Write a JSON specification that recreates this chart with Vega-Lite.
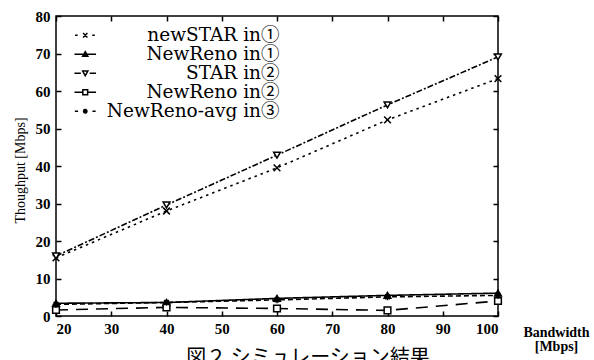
{
  "$schema": "https://vega.github.io/schema/vega-lite/v6.json",
  "width": 442,
  "height": 300,
  "autosize": "none",
  "padding": {"left": 56, "top": 16, "right": 96, "bottom": 44},
  "background": "white",
  "config": {
    "view": {"stroke": "black", "strokeWidth": 1.5},
    "font": "Liberation Serif, Times New Roman, serif",
    "legend": {"symbolStrokeColor": "black", "symbolFillColor": "transparent", "symbolStrokeWidth": 1.5}
  },
  "title": {
    "text": "図２ シミュレーション結果",
    "orient": "bottom",
    "anchor": "middle",
    "font": "Noto Sans CJK JP",
    "fontSize": 20,
    "fontWeight": "normal",
    "color": "black",
    "baseline": "top",
    "offset": -5,
    "dx": 31
  },
  "datasets": {
    "d": [
      {"series": "newSTAR in①", "bw": 20, "tp": 15.5},
      {"series": "newSTAR in①", "bw": 40, "tp": 28.0},
      {"series": "newSTAR in①", "bw": 60, "tp": 39.5},
      {"series": "newSTAR in①", "bw": 80, "tp": 52.3},
      {"series": "newSTAR in①", "bw": 100, "tp": 63.3},
      {"series": "NewReno in①", "bw": 20, "tp": 3.4},
      {"series": "NewReno in①", "bw": 40, "tp": 3.6},
      {"series": "NewReno in①", "bw": 60, "tp": 4.7},
      {"series": "NewReno in①", "bw": 80, "tp": 5.5},
      {"series": "NewReno in①", "bw": 100, "tp": 6.1},
      {"series": "STAR in②", "bw": 20, "tp": 16.0},
      {"series": "STAR in②", "bw": 40, "tp": 29.6},
      {"series": "STAR in②", "bw": 60, "tp": 42.9},
      {"series": "STAR in②", "bw": 80, "tp": 56.3},
      {"series": "STAR in②", "bw": 100, "tp": 69.1},
      {"series": "NewReno in②", "bw": 20, "tp": 1.6},
      {"series": "NewReno in②", "bw": 40, "tp": 2.3},
      {"series": "NewReno in②", "bw": 60, "tp": 2.0},
      {"series": "NewReno in②", "bw": 80, "tp": 1.5},
      {"series": "NewReno in②", "bw": 100, "tp": 4.0},
      {"series": "NewReno-avg in③", "bw": 20, "tp": 3.1},
      {"series": "NewReno-avg in③", "bw": 40, "tp": 3.6},
      {"series": "NewReno-avg in③", "bw": 60, "tp": 4.3},
      {"series": "NewReno-avg in③", "bw": 80, "tp": 5.1},
      {"series": "NewReno-avg in③", "bw": 100, "tp": 5.5}
    ]
  },
  "resolve": {
    "scale": {"shape": "independent"},
    "legend": {"shape": "independent"},
    "axis": {"x": "independent", "y": "independent"}
  },
  "layer": [
    {
      "data": {"name": "d"},
      "mark": {"type": "line", "stroke": "black", "strokeWidth": 1.6},
      "encoding": {
        "x": {
          "field": "bw", "type": "quantitative",
          "scale": {"domain": [20, 100]},
          "axis": {
            "orient": "bottom", "values": [20, 30, 40, 50, 60, 70, 80, 90, 100],
            "domain": false, "grid": false, "tickSize": -5, "tickWidth": 1.5, "tickColor": "black",
            "labelPadding": 10, "labelFont": "Liberation Serif, Times New Roman, serif", "labelFontWeight": "bold", "labelFontSize": 15, "labelColor": "black",
            "title": ["Bandwidth", "[Mbps]"], "titleX": 500, "titleY": 9, "titleAlign": "center", "titleBaseline": "top", "titleAngle": 0,
            "titleFont": "Liberation Serif, Times New Roman, serif", "titleFontSize": 14, "titleFontWeight": "bold", "titleColor": "black", "titleLineHeight": 14
          }
        },
        "y": {
          "field": "tp", "type": "quantitative",
          "scale": {"domain": [0, 80]},
          "axis": {
            "orient": "left", "values": [0, 10, 20, 30, 40, 50, 60, 70, 80],
            "domain": false, "grid": false, "tickSize": -5, "tickWidth": 1.5, "tickColor": "black",
            "labelPadding": 11, "labelFont": "Liberation Serif, Times New Roman, serif", "labelFontWeight": "bold", "labelFontSize": 15, "labelColor": "black",
            "title": "Thoughput [Mbps]", "titleX": -36, "titleY": 154, "titleAngle": -90, "titleAlign": "center", "titleBaseline": "middle",
            "titleFont": "Liberation Serif, Times New Roman, serif", "titleFontSize": 14, "titleFontWeight": "normal", "titleColor": "black"
          }
        },
        "strokeDash": {
          "field": "series", "type": "nominal",
          "scale": {
            "domain": ["newSTAR in①", "NewReno in①", "STAR in②", "NewReno in②", "NewReno-avg in③"],
            "range": [[2.5, 4], [1, 0], [6, 2, 2, 2], [12, 8], [5, 3]]
          },
          "legend": null
        }
      }
    },
    {
      "data": {"name": "d"},
      "mark": {"type": "point", "stroke": "black", "strokeWidth": 1.5, "size": 45, "opacity": 1},
      "encoding": {
        "x": {"field": "bw", "type": "quantitative", "axis": null},
        "y": {"field": "tp", "type": "quantitative", "axis": null},
        "shape": {
          "field": "series", "type": "nominal",
          "scale": {
            "domain": ["newSTAR in①", "NewReno in①", "STAR in②", "NewReno in②", "NewReno-avg in③"],
            "range": [
              "M-1,-1L1,1M-1,1L1,-1",
              "triangle-up",
              "triangle-down",
              "square",
              "M-1,0H1M0,-1V1M-0.7,-0.7L0.7,0.7M-0.7,0.7L0.7,-0.7"
            ]
          },
          "legend": null
        },
        "fill": {
          "field": "series", "type": "nominal",
          "scale": {
            "domain": ["newSTAR in①", "NewReno in①", "STAR in②", "NewReno in②", "NewReno-avg in③"],
            "range": ["black", "black", "white", "white", "black"]
          },
          "legend": null
        }
      }
    },
    {
      "data": {"name": "d"},
      "transform": [{"filter": "datum.tp < 0"}],
      "mark": {"type": "point", "filled": false, "stroke": "black", "strokeWidth": 1.5, "opacity": 1},
      "encoding": {
        "x": {
          "field": "bw", "type": "quantitative",
          "axis": {"orient": "top", "values": [20, 30, 40, 50, 60, 70, 80, 90, 100], "labels": false, "domain": false, "grid": false, "tickSize": -5, "tickWidth": 1.5, "tickColor": "black", "title": null}
        },
        "y": {
          "field": "tp", "type": "quantitative",
          "axis": {"orient": "right", "values": [0, 10, 20, 30, 40, 50, 60, 70, 80], "labels": false, "domain": false, "grid": false, "tickSize": -5, "tickWidth": 1.5, "tickColor": "black", "title": null}
        },
        "shape": {
          "field": "series", "type": "nominal",
          "scale": {
            "domain": ["newSTAR in①", "NewReno in①", "STAR in②", "NewReno in②", "NewReno-avg in③"],
            "range": [
              "M-2.55,0H-1.9M1.75,0H2.4M-0.55,-0.55L0.55,0.55M-0.55,0.55L0.55,-0.55",
              "M-2.7,0H2.7M0,-0.65L0.65,0.5L-0.65,0.5ZM0,-0.2L0.3,0.3L-0.3,0.3Z",
              "M-2.7,0H-1.1M1.1,0H2.7M-0.65,-0.55L0.65,-0.55L0,0.6Z",
              "M-2.7,0H-0.7M0.7,0H2.7M-0.6,-0.6H0.6V0.6H-0.6Z",
              "M-2.6,0H-1.8M1.8,0H2.6M-0.6,0H0.6M0,-0.6V0.6M-0.45,-0.45L0.45,0.45M-0.45,0.45L0.45,-0.45"
            ]
          },
          "legend": {
            "orient": "none", "legendX": 20, "legendY": 10, "title": null, "padding": 0,
            "symbolSize": 64, "symbolStrokeColor": "black", "symbolFillColor": "transparent", "symbolStrokeWidth": 1.5,
            "labelAlign": "right", "labelOffset": 185, "labelLimit": 400,
            "labelFont": "DejaVu Serif, Noto Sans CJK JP, serif", "labelFontSize": 18.5, "labelColor": "black", "rowPadding": 0
          }
        }
      }
    }
  ]
}
